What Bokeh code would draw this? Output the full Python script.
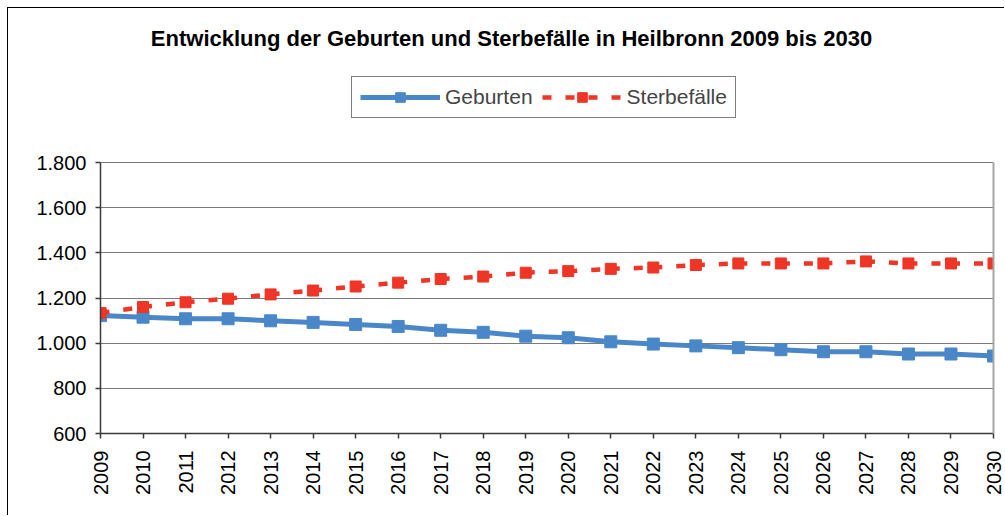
import math
from bokeh.plotting import figure
from bokeh.models import (FixedTicker, Legend, LegendItem, ColumnDataSource,
                          Label, LinearAxis, Range1d)
from bokeh.embed import file_html
from bokeh.resources import INLINE

# ---- data ----
years = list(range(2009, 2031))
geburten = [1122, 1115, 1108, 1108, 1099, 1092, 1083, 1074, 1057, 1048, 1031,
            1024, 1006, 996, 988, 980, 971, 962, 962, 952, 952, 943]
sterbefaelle = [1134, 1160, 1181, 1197, 1216, 1233, 1251, 1268, 1284, 1295, 1312,
                1319, 1329, 1335, 1346, 1353, 1353, 1353, 1362, 1353, 1353, 1353]
y_ticks = [600, 800, 1000, 1200, 1400, 1600, 1800]
y_tick_labels = ["600", "800", "1.000", "1.200", "1.400", "1.600", "1.800"]
title_text = "Entwicklung der Geburten und Sterbefälle in Heilbronn 2009 bis 2030"
series_names = ["Geburten", "Sterbefälle"]

BLUE = "#4A87C8"
RED = "#EE3526"
FONT = "Liberation Sans"

# layout (pixels): canvas 997x508, value axis spans 271 px at the bottom of the frame
W, H = 997, 508
B_LEFT, B_RIGHT, B_BOTTOM = 92, 12, 83
AXIS_PX = 271
frame_h = H - B_BOTTOM
y_lo, y_hi = y_ticks[0], y_ticks[-1]
y_top = y_lo + (y_hi - y_lo) * frame_h / AXIS_PX

p = figure(width=W, height=H, output_backend="svg", toolbar_location=None,
           x_range=Range1d(years[0], years[-1]), y_range=Range1d(y_lo, y_top),
           min_border_left=B_LEFT, min_border_right=B_RIGHT, min_border_top=0,
           min_border_bottom=B_BOTTOM)
p.styles = {"margin-left": "7px", "margin-top": "7px",
            "border-left": "1px solid #000000", "border-top": "1px solid #000000"}

p.background_fill_color = "white"
p.border_fill_color = "white"
p.outline_line_color = None

# axes
p.xaxis.ticker = FixedTicker(ticks=years)
p.yaxis.ticker = FixedTicker(ticks=y_ticks)
p.yaxis.bounds = (y_lo, y_hi)
p.yaxis.major_label_overrides = {t: l for t, l in zip(y_ticks, y_tick_labels)}
for ax in (p.xaxis, p.yaxis):
    ax.axis_line_color = "#3A3A3A"
    ax.axis_line_width = 1.5
    ax.major_tick_line_color = "#3A3A3A"
    ax.major_tick_line_width = 1.5
    ax.major_tick_out = 5
    ax.major_tick_in = 0
    ax.minor_tick_line_color = None
    ax.major_label_text_font = FONT
    ax.major_label_text_font_size = "20px"
    ax.major_label_text_color = "#000000"
p.xaxis.major_label_orientation = math.pi / 2
p.xaxis.major_label_standoff = 12
p.yaxis.major_label_standoff = 9

# right border of the plot area
right_ax = LinearAxis(ticker=FixedTicker(ticks=[]), bounds=(y_lo, y_hi),
                      axis_line_color="#A6A6A6", axis_line_width=2,
                      major_tick_line_color=None, minor_tick_line_color=None)
p.add_layout(right_ax, "right")

p.xgrid.grid_line_color = None
p.ygrid.grid_line_color = "#7A7A7A"
p.ygrid.grid_line_width = 1

# series
src = ColumnDataSource(dict(x=years, g=geburten, s=sterbefaelle))
g_line = p.line("x", "g", source=src, line_color=BLUE, line_width=5)
g_mark = p.scatter("x", "g", source=src, marker="square", size=12,
                   fill_color=BLUE, line_color=BLUE)

seg_xs = [[years[i], years[i + 1]] for i in range(len(years) - 1)]
seg_ys = [[sterbefaelle[i], sterbefaelle[i + 1]] for i in range(len(years) - 1)]
s_line = p.multi_line(seg_xs, seg_ys, line_color=RED, line_width=4.5,
                      line_dash="9 14")
s_mark = p.scatter("x", "s", source=src, marker="square", size=11,
                   fill_color=RED, line_color=RED)

# title
p.add_layout(Label(x=411, y=frame_h - 30, x_units="screen", y_units="screen",
                   text=title_text, text_font=FONT, text_font_size="22px",
                   text_font_style="bold", text_align="center",
                   text_baseline="middle", text_color="#000000"))

# legend
legend = Legend(items=[LegendItem(label=series_names[0], renderers=[g_line, g_mark]),
                       LegendItem(label=series_names[1], renderers=[s_line, s_mark])],
                location=(251, frame_h - 110), orientation="horizontal",
                glyph_width=80, glyph_height=24, label_standoff=5, spacing=9,
                padding=8, margin=0,
                label_text_font=FONT, label_text_font_size="21px",
                border_line_color="#000000", border_line_width=1,
                background_fill_color="white", background_fill_alpha=1)
p.add_layout(legend, "center")

open("out.html", "w").write(file_html(p, INLINE))
